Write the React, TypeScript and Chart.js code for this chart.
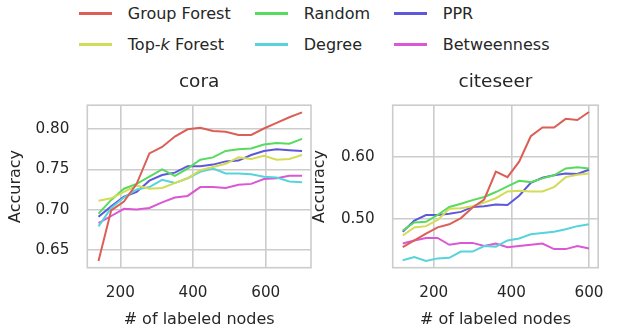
import React, { useEffect, useRef } from "react";
import { Chart, registerables } from "chart.js";

Chart.register(...registerables);

// ---------- data ----------
const seriesNames = ["Group Forest", "Top-k Forest", "Random", "Degree", "PPR", "Betweenness"];
const seriesColors = ["#db5f57", "#d3db57", "#57db5f", "#57d3db", "#5f57db", "#db57d3"];

const coraX = [140, 175, 210, 245, 280, 315, 350, 385, 420, 455, 490, 525, 560, 595, 630, 665, 700];
const coraGroupForest = [0.636, 0.699, 0.710, 0.732, 0.770, 0.778, 0.791, 0.800, 0.802, 0.798, 0.797, 0.793, 0.793, 0.801, 0.808, 0.815, 0.821];
const coraTopK = [0.711, 0.714, 0.722, 0.730, 0.726, 0.727, 0.733, 0.739, 0.749, 0.753, 0.757, 0.765, 0.763, 0.767, 0.762, 0.763, 0.768];
const coraRandom = [0.695, 0.712, 0.726, 0.732, 0.741, 0.750, 0.742, 0.751, 0.762, 0.765, 0.773, 0.775, 0.776, 0.781, 0.783, 0.782, 0.788];
const coraDegree = [0.679, 0.702, 0.715, 0.725, 0.728, 0.737, 0.733, 0.739, 0.747, 0.751, 0.745, 0.745, 0.744, 0.741, 0.740, 0.735, 0.734];
const coraPPR = [0.691, 0.704, 0.716, 0.722, 0.736, 0.743, 0.746, 0.754, 0.754, 0.756, 0.760, 0.761, 0.768, 0.773, 0.775, 0.774, 0.773];
const coraBetweenness = [0.683, 0.692, 0.701, 0.700, 0.702, 0.709, 0.715, 0.717, 0.728, 0.728, 0.727, 0.731, 0.732, 0.738, 0.739, 0.742, 0.742];

const citeseerX = [120, 150, 180, 210, 240, 270, 300, 330, 360, 390, 420, 450, 480, 510, 540, 570, 600];
const citeseerGroupForest = [0.454, 0.465, 0.476, 0.486, 0.491, 0.501, 0.518, 0.531, 0.576, 0.567, 0.592, 0.633, 0.647, 0.647, 0.661, 0.659, 0.672];
const citeseerTopK = [0.473, 0.486, 0.488, 0.498, 0.516, 0.517, 0.520, 0.526, 0.533, 0.544, 0.545, 0.544, 0.544, 0.551, 0.567, 0.571, 0.573];
const citeseerRandom = [0.481, 0.494, 0.495, 0.506, 0.519, 0.524, 0.530, 0.535, 0.543, 0.552, 0.561, 0.559, 0.565, 0.570, 0.581, 0.583, 0.581];
const citeseerDegree = [0.433, 0.438, 0.432, 0.436, 0.437, 0.447, 0.447, 0.456, 0.455, 0.465, 0.468, 0.475, 0.477, 0.479, 0.483, 0.488, 0.491];
const citeseerPPR = [0.479, 0.497, 0.506, 0.506, 0.508, 0.511, 0.519, 0.520, 0.523, 0.522, 0.537, 0.558, 0.566, 0.570, 0.573, 0.572, 0.579];
const citeseerBetweenness = [0.460, 0.465, 0.469, 0.469, 0.458, 0.461, 0.461, 0.456, 0.460, 0.454, 0.456, 0.458, 0.460, 0.451, 0.451, 0.456, 0.452];

const coraXTicks = [200, 400, 600];
const coraYTicks = [0.65, 0.70, 0.75, 0.80];
const citeseerXTicks = [200, 400, 600];
const citeseerYTicks = [0.50, 0.60];

const xLabel = "# of labeled nodes";
const yLabel = "Accuracy";

// ---------- style ----------
const FONT = "'DejaVu Sans', sans-serif";
const TEXT = "#262626";
const GRID = "#cccccc";

const framePlugin = {
  id: "frame",
  beforeDatasetsDraw(chart: any) {
    const { ctx, chartArea: a } = chart;
    ctx.save();
    ctx.strokeStyle = GRID;
    ctx.lineWidth = 1.6;
    ctx.strokeRect(a.left, a.top, a.right - a.left, a.bottom - a.top);
    ctx.restore();
  },
};

type PanelProps = {
  left: number;
  width: number;
  title: string;
  xs: number[];
  series: number[][];
  xMin: number;
  xMax: number;
  yMin: number;
  yMax: number;
  xTicks: number[];
  yTicks: number[];
  yAxisWidth: number;
};

function Panel(p: PanelProps) {
  const ref = useRef<HTMLCanvasElement | null>(null);
  useEffect(() => {
    if (!ref.current) return;
    const chart = new Chart(ref.current, {
      type: "line",
      data: {
        datasets: p.series.map((vals, i) => ({
          label: seriesNames[i],
          data: p.xs.map((x, j) => ({ x, y: vals[j] })),
          borderColor: seriesColors[i],
          backgroundColor: seriesColors[i],
          borderWidth: 2,
          pointRadius: 0,
          tension: 0,
          fill: false,
        })),
      },
      options: {
        animation: false,
        responsive: false,
        maintainAspectRatio: false,
        events: [],
        layout: { padding: { left: 0, right: 5, top: 0, bottom: 0 } },
        plugins: {
          legend: { display: false },
          tooltip: { enabled: false },
          title: {
            display: true,
            fullSize: false,
            text: p.title,
            color: TEXT,
            font: { family: FONT, size: 18.5, weight: "normal" },
            padding: { top: 71, bottom: 12 },
          },
        },
        scales: {
          x: {
            type: "linear",
            min: p.xMin,
            max: p.xMax,
            afterBuildTicks: (s: any) => {
              s.ticks = p.xTicks.map((v) => ({ value: v }));
            },
            afterFit: (s: any) => {
              s.height = 61.3;
            },
            grid: { color: GRID, lineWidth: 1.6, drawTicks: false },
            border: { display: false },
            ticks: {
              color: TEXT,
              font: { family: FONT, size: 15.2 },
              padding: 16.5,
              maxRotation: 0,
              autoSkip: false,
              callback: (v: any) => String(v),
            },
            title: {
              display: true,
              text: xLabel,
              color: TEXT,
              font: { family: FONT, size: 16 },
              padding: { top: 0, bottom: 0 },
            },
          },
          y: {
            type: "linear",
            min: p.yMin,
            max: p.yMax,
            afterBuildTicks: (s: any) => {
              s.ticks = p.yTicks.map((v) => ({ value: v }));
            },
            afterFit: (s: any) => {
              s.width = p.yAxisWidth;
            },
            grid: { color: GRID, lineWidth: 1.6, drawTicks: false },
            border: { display: false },
            ticks: {
              color: TEXT,
              font: { family: FONT, size: 15.2 },
              padding: 18,
              autoSkip: false,
              callback: (v: any) => Number(v).toFixed(2),
            },
            title: {
              display: true,
              text: yLabel,
              color: TEXT,
              font: { family: FONT, size: 16 },
              padding: { top: 6, bottom: 0 },
            },
          },
        },
      } as any,
      plugins: [framePlugin],
    });
    return () => chart.destroy();
  }, []);
  return (
    <canvas
      ref={ref}
      width={p.width}
      height={329}
      style={{ position: "absolute", left: p.left, top: 0, width: p.width, height: 329 }}
    />
  );
}

function LegendLabel({ name }: { name: string }) {
  const m = name.match(/^(.*-)(k)( .*)$/);
  if (m) {
    return (
      <>
        {m[1]}
        <i>{m[2]}</i>
        {m[3]}
      </>
    );
  }
  return <>{name}</>;
}

const legendColX = [78.5, 254.5, 393.5];
const legendRowY = [13.5, 44.5];

export default function App() {
  return (
    <div
      style={{
        position: "absolute",
        left: 0,
        top: 0,
        width: 628,
        height: 329,
        background: "#ffffff",
        overflow: "hidden",
        fontFamily: FONT,
      }}
    >
      {seriesNames.map((name, i) => {
        const col = Math.floor(i / 2);
        const row = i % 2;
        const x = legendColX[col];
        const y = legendRowY[row];
        return (
          <React.Fragment key={name}>
            <div
              style={{
                position: "absolute",
                left: x,
                top: y - 1.25,
                width: 33.5,
                height: 2.5,
                background: seriesColors[i],
              }}
            />
            <div
              style={{
                position: "absolute",
                left: x + 49.3,
                top: y - 11,
                height: 22,
                lineHeight: "22px",
                fontSize: 16,
                color: TEXT,
                whiteSpace: "nowrap",
              }}
            >
              <LegendLabel name={name} />
            </div>
          </React.Fragment>
        );
      })}
      <Panel
        left={0}
        width={316}
        title="cora"
        xs={coraX}
        series={[coraGroupForest, coraTopK, coraRandom, coraDegree, coraPPR, coraBetweenness]}
        xMin={109.2}
        xMax={724.6}
        yMin={0.6276}
        yMax={0.83}
        xTicks={coraXTicks}
        yTicks={coraYTicks}
        yAxisWidth={87.3}
      />
      <Panel
        left={304}
        width={317}
        title="citeseer"
        xs={citeseerX}
        series={[citeseerGroupForest, citeseerTopK, citeseerRandom, citeseerDegree, citeseerPPR, citeseerBetweenness]}
        xMin={94.2}
        xMax={623.7}
        yMin={0.421}
        yMax={0.683}
        xTicks={citeseerXTicks}
        yTicks={citeseerYTicks}
        yAxisWidth={88.7}
      />
    </div>
  );
}
